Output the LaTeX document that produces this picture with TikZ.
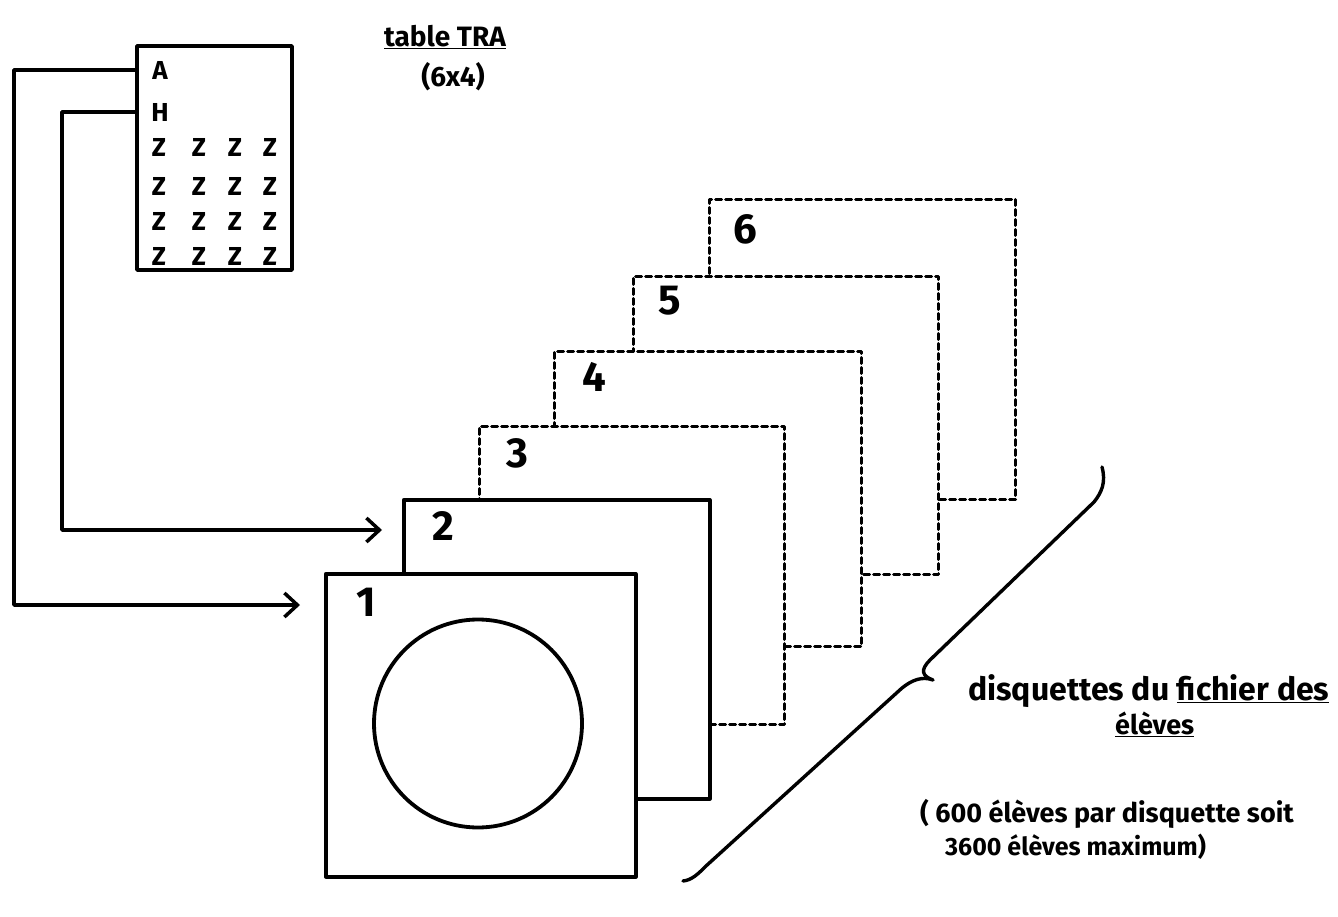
\documentclass[tikz,border=0pt]{standalone}
\usepackage{fontspec}
\setmainfont{Fira Sans}
\usetikzlibrary{arrows.meta}
\begin{document}
\begin{tikzpicture}[x=1pt,y=-1pt,
  line cap=round, line join=round,
  diskbox/.style={draw, fill=white, line width=3.5pt, minimum width=#1, minimum height=300pt, inner sep=0pt, anchor=north west},
  solidbox/.style={diskbox=#1},
  dashbox/.style={diskbox=#1, line width=3pt, dash pattern=on 6pt off 4pt},
  num/.style={font=\fontsize{42}{42}\selectfont\bfseries, inner sep=0pt},
  cell/.style={font=\fontsize{26}{26}\selectfont\bfseries, inner sep=0pt},
  conn/.style={line width=3.5pt},
  arr/.style={conn, -{Straight Barb[length=13pt,width=24pt,line width=3.5pt]}},
  hand/.style={inner sep=0pt, anchor=base west},
]
\useasboundingbox (0,0) rectangle (1338,917);

% table TRA
\node[draw, line width=3.5pt, minimum width=155pt, minimum height=224pt, inner sep=0pt] (tab) at (214.5,158) {};
\node[cell] (rA) at (160,70) {A};
\node[cell] (rH) at (160,112) {H};
\foreach \r/\y in {1/147,2/186,3/221,4/256}{
  \foreach \c/\x in {1/159,2/199,3/235,4/270}{
    \node[cell] (z\r\c) at (\x,\y) {Z};
  }
}
\node[inner sep=0pt, font=\fontsize{28}{28}\selectfont\bfseries] (title) at (445,37) {\underline{table TRA}};
\node[inner sep=0pt, font=\fontsize{28}{28}\selectfont\bfseries] (dims) at (453,77) {(6x4)};

% disks, back to front
\node[dashbox=306pt] (d6) at (708,198) {};
\node[dashbox=305pt, minimum height=298pt] (d5) at (632,275) {};
\node[dashbox=307pt, minimum height=295pt] (d4) at (553,350) {};
\node[dashbox=305pt, minimum height=298pt] (d3) at (478,425) {};
\node[solidbox=306pt, minimum height=299pt] (d2) at (402,498) {};
\node[solidbox=310pt, minimum height=303pt] (d1) at (324,572) {};

\node[num] (n6) at (745,229) {6};
\node[num] (n5) at (670,301) {5};
\node[num] (n4) at (594,377) {4};
\node[num] (n3) at (517,453) {3};
\node[num] (n2) at (443,526) {2};
\node[num] (n1) at (366,602) {1};

\draw[line width=3.8pt] (478,723.5) circle[radius=104];

% connectors
\coordinate (cA) at (14,605);
\coordinate (cH) at (62,530);
\draw[arr, shorten >=24pt] (tab.west |- rA) -| (cA) -- (d1.west |- cA);
\draw[arr, shorten >=20pt] (tab.west |- rH) -| (cH) -- (d2.west |- cH);

% brace
\draw[line width=3.4pt] (1102,467) .. controls (1106,482) and (1102,492) .. (1094,502)
  -- (930,660) .. controls (920,670) and (922,676) .. (933,680)
  .. controls (922,676) and (912,680) .. (902,688)
  -- (706,866) .. controls (698,874) and (692,880) .. (683,881);

% texts
\node[hand, font=\fontsize{32}{32}\selectfont\bfseries] (t1) at (968,700) {disquettes du \underline{fichier des}};
\node[hand, font=\fontsize{27}{27}\selectfont\bfseries] (t2) at (1115,734) {\underline{élèves}};
\node[hand, font=\fontsize{27}{27}\selectfont\bfseries] (t3) at (920,822) {( 600 élèves par disquette soit};
\node[hand, font=\fontsize{25}{25}\selectfont\bfseries] (t4) at (945,855) {3600 élèves maximum)};
\end{tikzpicture}
\end{document}
